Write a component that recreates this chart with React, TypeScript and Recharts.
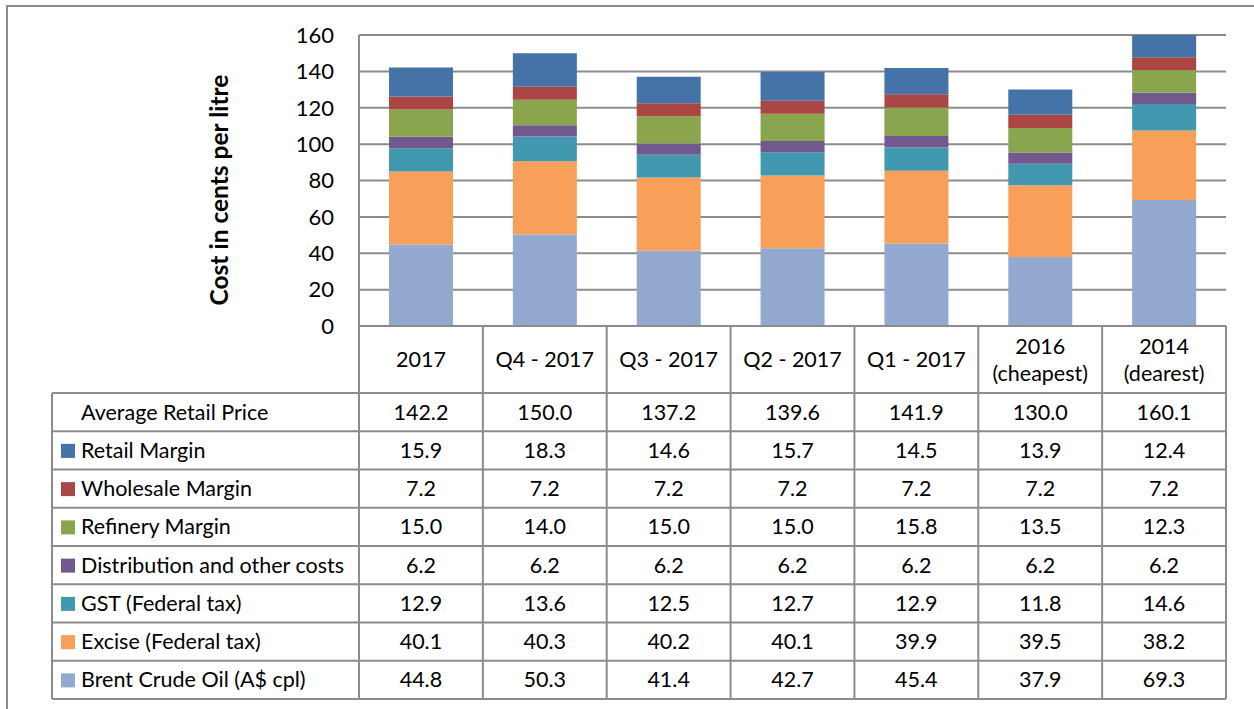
import React from 'react';
import { BarChart, Bar, XAxis, YAxis, CartesianGrid } from 'recharts';

const periods = ['2017', 'Q4 - 2017', 'Q3 - 2017', 'Q2 - 2017', 'Q1 - 2017', '2016\n(cheapest)', '2014\n(dearest)'];
const averageRetail = [142.2, 150.0, 137.2, 139.6, 141.9, 130.0, 160.1];
const retailMargin = [15.9, 18.3, 14.6, 15.7, 14.5, 13.9, 12.4];
const wholesaleMargin = [7.2, 7.2, 7.2, 7.2, 7.2, 7.2, 7.2];
const refineryMargin = [15.0, 14.0, 15.0, 15.0, 15.8, 13.5, 12.3];
const distribution = [6.2, 6.2, 6.2, 6.2, 6.2, 6.2, 6.2];
const gst = [12.9, 13.6, 12.5, 12.7, 12.9, 11.8, 14.6];
const excise = [40.1, 40.3, 40.2, 40.1, 39.9, 39.5, 38.2];
const brent = [44.8, 50.3, 41.4, 42.7, 45.4, 37.9, 69.3];
const yTicks = [0, 20, 40, 60, 80, 100, 120, 140, 160];

// stacking order, bottom first
const series = [
  { key: 'brent', name: 'Brent Crude Oil (A$ cpl)', values: brent, color: '#93a9cf' },
  { key: 'excise', name: 'Excise (Federal tax)', values: excise, color: '#f8a05a' },
  { key: 'gst', name: 'GST (Federal tax)', values: gst, color: '#4299af' },
  { key: 'dist', name: 'Distribution and other costs', values: distribution, color: '#71588f' },
  { key: 'refinery', name: 'Refinery Margin', values: refineryMargin, color: '#8aa54d' },
  { key: 'wholesale', name: 'Wholesale Margin', values: wholesaleMargin, color: '#aa4643' },
  { key: 'retail', name: 'Retail Margin', values: retailMargin, color: '#4572a7' },
];

const data = periods.map((p, i) => {
  const row: any = { name: p };
  series.forEach(s => { row[s.key] = s.values[i]; });
  return row;
});

const W = 1254;
const H = 709;
const PLOT_L = 359;
const PLOT_R = 1226;
const PLOT_T = 35;
const PLOT_B = 326;
const HEAD_B = 393;
const ROW_H = 38.25;
const TABLE_L = 52;
const GRID = '#8c8c8c';
const FONT = 'Lato, sans-serif';
const TXT = 21.5;

const colW = (PLOT_R - PLOT_L) / periods.length;

const tableRows = [
  { label: 'Average Retail Price', values: averageRetail, color: null as string | null },
  ...series.slice().reverse().map(s => ({ label: s.name, values: s.values, color: s.color })),
];

const DataTable = () => {
  const bottom = HEAD_B + ROW_H * tableRows.length;
  return (
    <svg width={W} height={H} style={{ position: 'absolute', left: 0, top: 0 }}>
      {/* header row */}
      {periods.map((p, i) => {
        const cx = PLOT_L + colW * (i + 0.5);
        const lines = p.split('\n');
        const mid = (PLOT_B + HEAD_B) / 2;
        return lines.map((t, j) => (
          <text key={`h${i}-${j}`} x={cx} y={mid + (j - (lines.length - 1) / 2) * 27 + 7.5}
            textAnchor="middle" fontSize={TXT} fontFamily={FONT} fill="#000">{t}</text>
        ));
      })}
      {tableRows.map((r, k) => {
        const top = HEAD_B + k * ROW_H;
        const ty = top + ROW_H / 2 + 7.5;
        return (
          <g key={`r${k}`}>
            {r.color && <rect x={61} y={top + ROW_H / 2 - 6.5} width={14} height={14} fill={r.color} />}
            <text x={81} y={ty} fontSize={TXT} fontFamily={FONT} fill="#000">{r.label}</text>
            {r.values.map((v, i) => (
              <text key={i} x={PLOT_L + colW * (i + 0.5)} y={ty} textAnchor="middle"
                fontSize={TXT} fontFamily={FONT} fill="#000">{v.toFixed(1)}</text>
            ))}
          </g>
        );
      })}
      {/* grid lines */}
      <line x1={PLOT_L} x2={PLOT_R} y1={PLOT_B} y2={PLOT_B} stroke={GRID} strokeWidth={2} />
      {Array.from({ length: tableRows.length + 1 }).map((_, k) => (
        <line key={`hl${k}`} x1={TABLE_L} x2={PLOT_R} y1={HEAD_B + k * ROW_H} y2={HEAD_B + k * ROW_H}
          stroke={GRID} strokeWidth={2} />
      ))}
      {Array.from({ length: periods.length + 1 }).map((_, i) => (
        <line key={`vl${i}`} x1={PLOT_L + colW * i} x2={PLOT_L + colW * i} y1={PLOT_B} y2={bottom}
          stroke={GRID} strokeWidth={2} />
      ))}
      <line x1={TABLE_L} x2={TABLE_L} y1={HEAD_B} y2={bottom} stroke={GRID} strokeWidth={2} />
    </svg>
  );
};

const App = () => {
  return (
    <div style={{ position: 'absolute', left: 0, top: 0, width: W, height: H, background: '#fff', overflow: 'hidden' }}>
      <div style={{ position: 'absolute', left: 6, top: 5, width: 1400, height: 900, border: `2px solid ${GRID}` }} />
      <BarChart width={W} height={H} data={data}
        margin={{ top: PLOT_T, right: W - PLOT_R, bottom: H - PLOT_B, left: PLOT_L - 60 }}>
        <CartesianGrid vertical={false} stroke={GRID} strokeWidth={2} />
        <XAxis dataKey="name" hide />
        <YAxis width={60} domain={[0, 160]} ticks={yTicks} allowDataOverflow interval={0}
          tickLine={false} axisLine={{ stroke: GRID, strokeWidth: 2 }} tickMargin={19}
          tick={{ fill: '#000', fontSize: 22, fontFamily: FONT }} />
        {series.map(s => (
          <Bar key={s.key} dataKey={s.key} name={s.name} stackId="a" fill={s.color}
            barSize={64} isAnimationActive={false} />
        ))}
      </BarChart>
      <DataTable />
      <div style={{
        position: 'absolute', left: 218, top: 190, transform: 'translate(-50%, -50%) rotate(-90deg)',
        whiteSpace: 'nowrap', fontFamily: FONT, fontWeight: 'bold', fontSize: 24.5, color: '#000',
      }}>Cost in cents per litre</div>
    </div>
  );
};

export default App;
